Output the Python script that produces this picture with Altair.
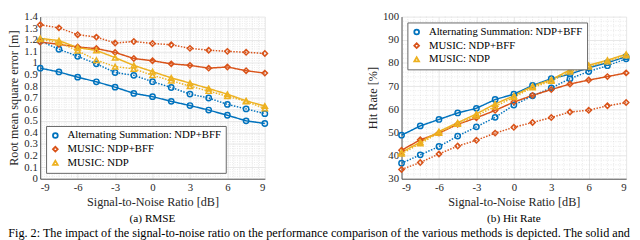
import altair as alt
import pandas as pd

snr = [-9, -7.5, -6, -4.5, -3, -1.5, 0, 1.5, 3, 4.5, 6, 7.5, 9]
methods = ["Alternating Summation: NDP+BFF", "MUSIC: NDP+BFF", "MUSIC: NDP"]
colors = ["#0072BD", "#D95319", "#EDB120"]
shapes = ["circle", "diamond", "triangle-up"]

# RMSE [m]
rmse_as_solid = [0.955, 0.922, 0.877, 0.837, 0.791, 0.737, 0.709, 0.668, 0.632, 0.593, 0.548, 0.500, 0.477]
rmse_as_dotted = [1.190, 1.118, 1.057, 0.992, 0.917, 0.893, 0.838, 0.788, 0.731, 0.697, 0.642, 0.603, 0.562]
rmse_mb_solid = [1.180, 1.161, 1.137, 1.124, 1.091, 1.038, 1.019, 0.992, 0.979, 0.955, 0.965, 0.933, 0.912]
rmse_mb_dotted = [1.330, 1.303, 1.244, 1.223, 1.172, 1.185, 1.168, 1.157, 1.126, 1.110, 1.100, 1.092, 1.082]
rmse_mn_solid = [1.212, 1.193, 1.132, 1.108, 1.046, 0.979, 0.925, 0.871, 0.826, 0.779, 0.730, 0.673, 0.628]
rmse_mn_dotted = [1.204, 1.177, 1.105, 1.024, 0.968, 0.949, 0.893, 0.847, 0.799, 0.757, 0.712, 0.668, 0.606]

# Hit rate [%]
hit_as_solid = [48.8, 52.8, 55.6, 58.4, 60.4, 64.2, 66.5, 70.3, 73.2, 75.2, 77.9, 80.1, 82.7]
hit_as_dotted = [36.7, 40.3, 43.9, 48.4, 52.4, 56.5, 61.8, 65.8, 69.2, 73.2, 76.3, 78.8, 81.8]
hit_mb_solid = [42.3, 46.8, 49.7, 53.5, 56.3, 59.5, 63.1, 66.0, 68.5, 70.9, 72.6, 74.1, 75.7]
hit_mb_dotted = [34.0, 37.0, 40.7, 44.1, 46.6, 49.7, 52.2, 54.3, 56.4, 58.8, 59.6, 61.5, 62.9]
hit_mn_solid = [41.4, 45.8, 50.4, 54.2, 58.0, 62.3, 65.8, 70.0, 72.8, 77.0, 79.0, 81.2, 83.8]
hit_mn_dotted = [40.8, 45.2, 49.8, 53.6, 57.2, 61.2, 65.2, 69.4, 72.2, 76.2, 78.4, 80.6, 83.2]

rmse_ticks = [0, 0.1, 0.2, 0.3, 0.4, 0.5, 0.6, 0.7, 0.8, 0.9, 1, 1.1, 1.2, 1.3, 1.4]
hit_ticks = [30, 40, 50, 60, 70, 80, 90, 100]
snr_ticks = [-9, -6, -3, 0, 3, 6, 9]
# minor grid positions
rmse_minor = [round(i * 0.02, 2) for i in range(71) if i % 5]
hit_minor = [30 + 2 * i for i in range(36) if i % 5]
snr_minor = [-9 + 0.5 * i for i in range(37) if i % 6]

caption = ("Fig. 2: The impact of the signal-to-noise ratio on the performance comparison "
           "of the various methods is depicted. The solid and")

FONT = "Liberation Serif"


def build(series):
    rows = []
    for method, style, vals in series:
        for x, v in zip(snr, vals):
            rows.append({"snr": x, "val": v, "method": method, "style": style,
                         "series": method + "|" + style})
    return pd.DataFrame(rows)


rmse_df = build([
    (methods[0], "solid", rmse_as_solid), (methods[0], "dotted", rmse_as_dotted),
    (methods[1], "solid", rmse_mb_solid), (methods[1], "dotted", rmse_mb_dotted),
    (methods[2], "solid", rmse_mn_solid), (methods[2], "dotted", rmse_mn_dotted),
])
hit_df = build([
    (methods[0], "solid", hit_as_solid), (methods[0], "dotted", hit_as_dotted),
    (methods[1], "solid", hit_mb_solid), (methods[1], "dotted", hit_mb_dotted),
    (methods[2], "solid", hit_mn_solid), (methods[2], "dotted", hit_mn_dotted),
])

color_scale = alt.Scale(domain=methods, range=colors)
shape_scale = alt.Scale(domain=methods, range=shapes)
dash_scale = alt.Scale(domain=["solid", "dotted"], range=[[1, 0], [1.5, 1.5]])

AX = dict(labelFont=FONT, labelFontSize=11, labelColor="#262626",
          titleFont=FONT, titleFontSize=12.5, titleFontWeight="normal", titleColor="#262626",
          gridColor="#e0e0e0", gridWidth=0.8, domainColor="#262626", domainWidth=0.8,
          ticks=False, labelPadding=3, titlePadding=3, labelExpr="'' + datum.value")

MINOR = dict(color="#d9d9d9", strokeDash=[1, 1.5], strokeWidth=0.6)


def panel(df, ytitle, ydomain, yticks, yminor, sub, legend_orient):
    xs = alt.Scale(domain=[-9, 9], nice=False)
    ys = alt.Scale(domain=ydomain, nice=False)
    xaxis = alt.Axis(values=snr_ticks, **AX)
    yaxis = alt.Axis(values=yticks, **AX)
    xt = "Signal-to-Noise Ratio [dB]"
    x = alt.X("snr:Q", title=xt, scale=xs, axis=xaxis)
    y = alt.Y("val:Q", title=ytitle, scale=ys, axis=yaxis)
    layers = [
        alt.Chart(pd.DataFrame({"v": yminor})).mark_rule(**MINOR).encode(
            y=alt.Y("v:Q", title=ytitle, scale=ys, axis=yaxis)),
        alt.Chart(pd.DataFrame({"v": snr_minor})).mark_rule(**MINOR).encode(
            x=alt.X("v:Q", title=xt, scale=xs, axis=xaxis)),
    ]
    for m, c in zip(methods, colors):
        layers.append(
            alt.Chart(df).transform_filter(alt.datum.method == m)
            .mark_line(strokeWidth=1.5, color=c)
            .encode(x=x, y=y,
                    strokeDash=alt.StrokeDash("style:N", scale=dash_scale, legend=None),
                    detail="series:N")
        )
    legend = alt.Legend(title=None, orient=legend_orient, offset=6)
    points = alt.Chart(df).mark_point(filled=False, strokeWidth=1.5, size=30, opacity=1).encode(
        x=x, y=y,
        color=alt.Color("method:N", scale=color_scale, legend=legend),
        shape=alt.Shape("method:N", scale=shape_scale, legend=legend),
    )
    layers.append(points)
    return alt.layer(*layers).properties(
        width=230, height=166,
        title=alt.TitleParams(text=sub, orient="bottom", font=FONT, fontSize=11.5,
                              fontWeight="normal", offset=6, color="#000000"),
    )


left = panel(rmse_df, "Root mean square error [m]", [0, 1.4], rmse_ticks, rmse_minor,
             "(a) RMSE", "bottom-left")
right = panel(hit_df, "Hit Rate [%]", [30, 100], hit_ticks, hit_minor,
              "(b) Hit Rate", "top-left")

chart = alt.hconcat(left, right, spacing=98).resolve_scale(
    color="independent", shape="independent"
).properties(
    title=alt.TitleParams(text=caption, orient="bottom", anchor="start", font=FONT,
                          fontSize=12.5, fontWeight="normal", offset=3, color="#000000"),
    padding=0,
).configure_view(stroke=None).configure_legend(
    fillColor="white", strokeColor="#666666", padding=4,
    labelFont=FONT, labelFontSize=11, labelColor="#000000",
    symbolSize=24, symbolStrokeWidth=1.8, symbolFillColor="white",
    rowPadding=1, labelLimit=300, labelOffset=7, clipHeight=11.5,
)

chart.save("out.html", embed_options={"renderer": "svg", "actions": False})
